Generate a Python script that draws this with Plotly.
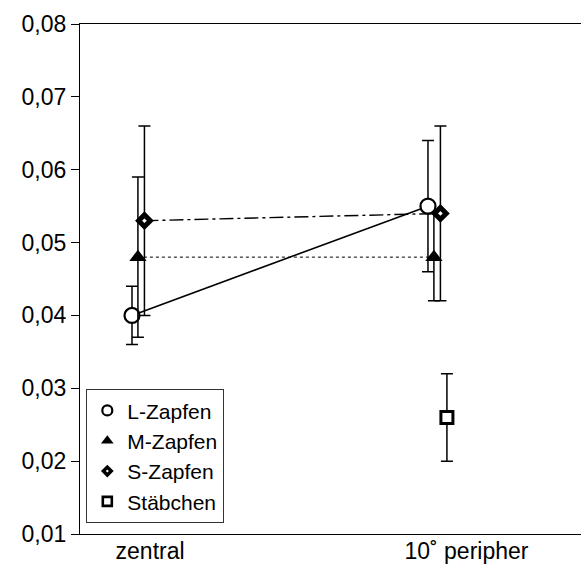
import plotly.graph_objects as go

# ---- data ----
categories = ["zentral", "10˚ peripher"]
series_names = ["L-Zapfen", "M-Zapfen", "S-Zapfen", "Stäbchen"]
l_values = [0.040, 0.055]
l_errors = [0.004, 0.009]
m_values = [0.048, 0.048]
m_errors = [0.011, 0.006]
s_values = [0.053, 0.054]
s_errors = [0.013, 0.012]
r_values = [None, 0.026]
r_errors = [None, 0.006]
y_ticks = [0.01, 0.02, 0.03, 0.04, 0.05, 0.06, 0.07, 0.08]

FONT = "Liberation Sans, Arial, sans-serif"
pos = list(range(len(categories)))

series = [
    dict(name=series_names[0], y=l_values, e=l_errors, off=0.0,
         dash="solid", lw=1.6,
         marker=dict(symbol="circle", size=15, color="white",
                     line=dict(color="black", width=2.2)),
         leg=dict(symbol="circle", size=10, color="white",
                  line=dict(color="black", width=2.2))),
    dict(name=series_names[1], y=m_values, e=m_errors, off=0.02,
         dash="dot", lw=1.0,
         marker=dict(symbol="triangle-up", size=15, color="black",
                     line=dict(color="black", width=0)),
         leg=dict(symbol="triangle-up", size=11, color="black",
                  line=dict(color="black", width=0))),
    dict(name=series_names[2], y=s_values, e=s_errors, off=0.042,
         dash="14px,4px,3px,4px", lw=1.4,
         marker=dict(symbol="diamond", size=9, color="white",
                     line=dict(color="black", width=5)),
         leg=dict(symbol="diamond", size=6, color="white",
                  line=dict(color="black", width=3.5))),
    dict(name=series_names[3], y=r_values, e=r_errors, off=0.064,
         dash=None, lw=0,
         marker=dict(symbol="square", size=12, color="white",
                     line=dict(color="black", width=3)),
         leg=dict(symbol="square", size=9, color="white",
                  line=dict(color="black", width=2.6))),
]

fig = go.Figure()

for s in series:
    xs = [p + s["off"] for p in pos]
    if s["dash"] is not None:
        fig.add_trace(go.Scatter(
            x=xs, y=s["y"], mode="lines", showlegend=False, hoverinfo="skip",
            line=dict(color="black", width=s["lw"], dash=s["dash"])))

for s in series:
    xs = [p + s["off"] for p in pos]
    fig.add_trace(go.Scatter(
        x=xs, y=s["y"], mode="markers", showlegend=False,
        marker=s["marker"],
        error_y=dict(type="data", array=s["e"], visible=True,
                     color="black", thickness=1.5, width=6)))

for s in series:
    fig.add_trace(go.Scatter(
        x=[None], y=[None], mode="markers", name=s["name"],
        marker=s["leg"]))

fig.update_layout(
    width=581, height=565,
    margin=dict(l=80, r=0, t=24, b=31, autoexpand=False),
    paper_bgcolor="white", plot_bgcolor="white",
    separators=",.",
    font=dict(family=FONT, size=23, color="black"),
    showlegend=True,
    legend=dict(x=0.012, y=0.0216, xanchor="left", yanchor="bottom",
                bgcolor="white", bordercolor="#333", borderwidth=1.3,
                font=dict(size=21, family=FONT, color="black"),
                tracegroupgap=0, itemwidth=30),
    xaxis=dict(range=[-0.1757, 1.517], showgrid=False, zeroline=False,
               showline=True, linecolor="black", linewidth=1.3, mirror=True,
               automargin=False, ticklabelstandoff=-4,
               tickmode="array", tickvals=[0.061, 1.13], ticktext=categories,
               ticks="", tickfont=dict(size=23, family=FONT, color="black")),
    yaxis=dict(range=[0.01, 0.08], showgrid=False, zeroline=False,
               showline=True, linecolor="black", linewidth=1.3,
               automargin=False,
               tickmode="array", tickvals=y_ticks, tickformat=".2f",
               ticks="outside", ticklen=8, tickwidth=1.3, tickcolor="black",
               tickfont=dict(size=23, family=FONT, color="black")),
)

fig.write_html("out.html")
